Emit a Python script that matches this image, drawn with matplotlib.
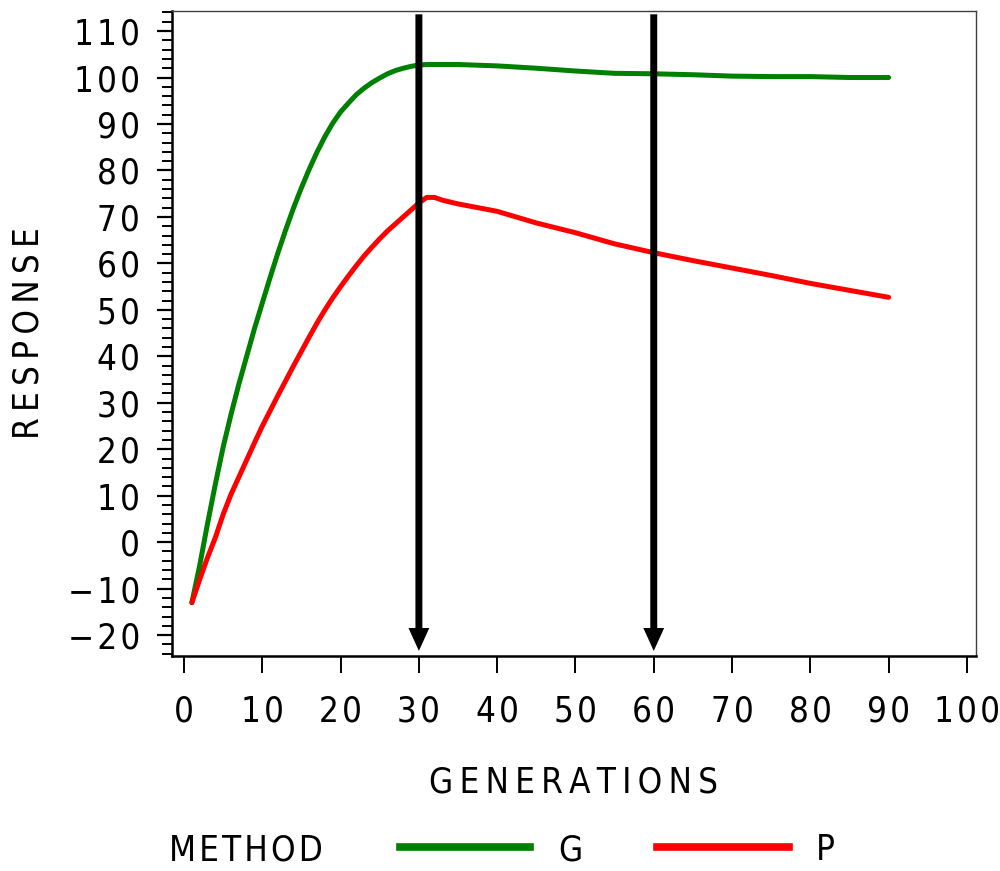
"""
Response over generations for two selection methods (G vs P).
Writes out.png (1000 x 871 px).
"""

import matplotlib
matplotlib.use("Agg")
import matplotlib.pyplot as plt
from matplotlib.lines import Line2D
from matplotlib.patches import FancyArrowPatch
from matplotlib.ticker import MultipleLocator

# ── Data ─────────────────────────────────────────────────────────────────────
GEN_G = [1, 2, 3, 4, 5, 6, 7, 8, 9, 10, 11, 12, 13, 14, 15, 16, 17, 18,
         19, 20, 21, 22, 23, 24, 25, 26, 27, 28, 29, 30, 31, 35, 40, 45,
         50, 55, 60, 65, 70, 75, 80, 85, 90]
RESP_G = [-13.0, -5.0, 4.0, 12.5, 20.5, 27.5, 34.0, 40.0, 46.0, 51.5,
          57.0, 62.3, 67.3, 72.0, 76.3, 80.3, 84.0, 87.3, 90.2, 92.6, 94.5,
          96.3, 97.7, 98.9, 99.9, 100.8, 101.5, 102.0, 102.4, 102.7, 102.8,
          102.8, 102.5, 102.0, 101.4, 100.9, 100.8, 100.6, 100.3, 100.2,
          100.2, 100.0, 100.0]

GEN_P = [1, 2, 3, 4, 5, 6, 7, 8, 9, 10, 11, 12, 13, 14, 15, 16, 17, 18,
         19, 20, 21, 22, 23, 24, 25, 26, 27, 28, 29, 30, 31, 32, 33, 35,
         40, 45, 50, 55, 60, 65, 70, 75, 80, 85, 90]
RESP_P = [-13.0, -8.0, -3.3, 1.0, 6.0, 10.3, 14.0, 17.7, 21.4, 25.0, 28.3,
          31.6, 34.8, 38.0, 41.1, 44.2, 47.2, 50.0, 52.6, 55.0, 57.3, 59.5,
          61.6, 63.5, 65.3, 67.0, 68.5, 70.0, 71.5, 73.0, 74.2, 74.2, 73.6,
          72.8, 71.2, 68.7, 66.6, 64.2, 62.3, 60.6, 59.0, 57.4, 55.7, 54.2,
          52.7]

ARROW_GENS = [30, 60]
X_TICKS = list(range(0, 101, 10))
Y_TICKS = list(range(-20, 111, 10))

# ── Style ────────────────────────────────────────────────────────────────────
GREEN = "#008000"
RED = "#FF0000"
FONT = dict(family="DejaVu Sans", stretch="condensed", fontsize=25)


def spaced(text, gap="\u2009"):
    # SAS-style letter spacing
    return gap.join(text)


plt.rcParams["font.family"] = ["DejaVu Sans"]

fig = plt.figure(figsize=(10, 8.71), dpi=100)
fig.patch.set_facecolor("white")
ax = fig.add_axes([0.1723, 0.2468, 0.8032, 0.7405])

ax.plot(GEN_G, RESP_G, color=GREEN, lw=3.6, solid_capstyle="round", zorder=3)
ax.plot(GEN_P, RESP_P, color=RED, lw=3.6, solid_capstyle="round", zorder=3)

# ── Arrows marking generations 30 and 60 ────────────────────────────────────
for g in ARROW_GENS:
    arrow = FancyArrowPatch(
        (g, 113.6),
        (g, -23.4),
        arrowstyle="simple,head_length=1.65,head_width=1.5,tail_width=0.5",
        mutation_scale=10,
        lw=0,
        color="black",
        shrinkA=0,
        shrinkB=0,
        zorder=4,
    )
    ax.add_patch(arrow)

# ── Axes ─────────────────────────────────────────────────────────────────────
ax.set_xlim(-1.5, 101.1)
ax.set_ylim(-24.5, 114.3)

ax.set_xticks(X_TICKS)
ax.set_yticks(Y_TICKS)
ax.yaxis.set_minor_locator(MultipleLocator(2))
ax.set_xticklabels([spaced(str(v), "\u200a") for v in X_TICKS], **FONT)
ax.set_yticklabels(
    [spaced(str(v).replace("-", "\u2212"), "\u200a") for v in Y_TICKS],
    **FONT,
)

ax.tick_params(axis="y", which="major", direction="out", length=11,
               width=1.6, pad=12)
ax.tick_params(axis="y", which="minor", direction="out", length=7,
               width=1.4)
ax.tick_params(axis="x", which="major", direction="out", length=12,
               width=1.4, pad=16)

for side in ("left", "bottom"):
    ax.spines[side].set_linewidth(1.8)
    ax.spines[side].set_color("black")
for side in ("top", "right"):
    ax.spines[side].set_linewidth(1.0)
    ax.spines[side].set_color("#404040")

ax.set_xlabel(spaced("GENERATIONS"), labelpad=26, **FONT)
ax.set_ylabel(spaced("RESPONSE"), labelpad=16, **FONT)

# ── Legend row ───────────────────────────────────────────────────────────────
y_leg = 1 - 850 / 871
fig.text(169 / 1000, y_leg, spaced("METHOD", "\u200a"), ha="left",
         va="center", **FONT)
fig.add_artist(Line2D([400 / 1000, 530 / 1000], [y_leg + 0.003] * 2,
                      color=GREEN, lw=5.5, transform=fig.transFigure))
fig.text(558 / 1000, y_leg, "G", ha="left", va="center", **FONT)
fig.add_artist(Line2D([657 / 1000, 789 / 1000], [y_leg + 0.003] * 2,
                      color=RED, lw=5.5, transform=fig.transFigure))
fig.text(816 / 1000, y_leg, "P", ha="left", va="center", **FONT)

fig.savefig("out.png", dpi=100, facecolor="white")
